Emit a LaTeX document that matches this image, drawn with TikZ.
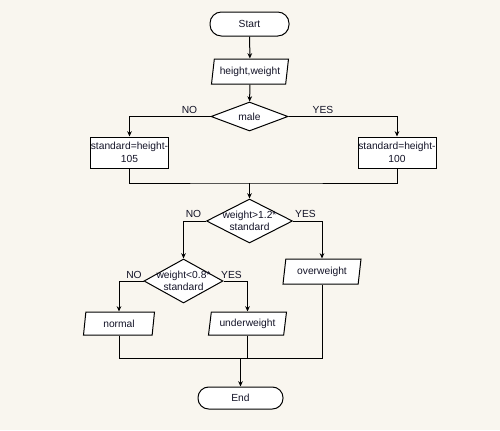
\documentclass[tikz,border=0pt]{standalone}
\usepackage{fontspec}
\setmainfont{Liberation Sans}
\usepackage{tikz}
\usetikzlibrary{shapes}
\usetikzlibrary{shapes.geometric}
\usetikzlibrary{arrows.meta}
\definecolor{paper}{RGB}{249,246,239}
\definecolor{ink}{RGB}{20,20,40}
\begin{document}
\begin{tikzpicture}[x=0.75pt,y=0.75pt,yscale=-1,xscale=1,
  every node/.style={font=\fontsize{7.7}{9.3}\selectfont, text=ink},
  terminal/.style={draw, fill=white, line width=0.75pt, rectangle, rounded corners=8.5pt, inner sep=0pt},
  inout/.style={draw, fill=white, line width=0.75pt, trapezium, trapezium left angle=77, trapezium right angle=103, trapezium stretches body, inner sep=1pt},
  process/.style={draw, fill=white, line width=0.75pt, rectangle, inner sep=0pt, align=center},
  decision/.style={draw, fill=white, line width=0.75pt, diamond, inner sep=0pt},
  lbl/.style={inner sep=0.75pt},
  flow/.style={line width=0.75pt, -{Stealth[length=4pt,width=3.5pt]}},
  link/.style={line width=0.75pt}]
\fill [paper] (0,0) rectangle (500,430);
\useasboundingbox (0,0) rectangle (500,430);
\node [terminal, minimum width=59.25pt, minimum height=18pt] (start) at (249.5,24) {Start};
\node [inout, minimum width=57.75pt, minimum height=18.75pt] (input) at (250,71.5) {height,weight};
\node [decision, minimum width=57.75pt, minimum height=21.75pt, label={center:male}] (male) at (249.5,116.5) {};
\node [process, minimum width=56.25pt, minimum height=23.25pt] (std105) at (129.5,152.5) {standard=height-\\105};
\node [process, minimum width=58.5pt, minimum height=23.25pt] (std100) at (397,152.5) {standard=height-\\100};
\coordinate (m1) at (249.5,183);
\node [decision, minimum width=64.5pt, minimum height=33pt, label={[align=center]center:weight>1.2*\\standard}] (check1) at (249.5,221) {};
\node [inout, minimum width=58.5pt, minimum height=18.75pt] (over) at (322,271.5) {overweight};
\node [decision, minimum width=59.25pt, minimum height=33pt, label={[align=center]center:weight<0.8*\\standard}] (check2) at (183.5,281) {};
\node [inout, minimum width=53.25pt, minimum height=17.25pt] (normal) at (119,323.5) {normal};
\node [inout, minimum width=58.5pt, minimum height=17.25pt] (under) at (247.5,323.5) {underweight};
\coordinate (m2) at (240.5,358);
\node [terminal, minimum width=63.75pt, minimum height=16.5pt, rounded corners=8pt] (end) at (240.5,398) {End};
\draw [flow] (start) -- (input);
\draw [flow] (input) -- (male);
\draw [flow] (male.west) -| (std105.north);
\draw [flow] (male.east) -| (std100.north);
\draw [link] (std105.south) |- (m1) -| (std100.south);
\draw [flow] (m1) -- (check1);
\draw [flow] (check1.west) -| (check2.north);
\draw [flow] (check1.east) -| (over.north);
\draw [flow] (check2.west) -| (normal.north);
\draw [flow] (check2.east) -| (under.north);
\draw [link] (normal.south) |- (m2) -| (over.south);
\draw [link] (under.south) -- (under.south |- m2);
\draw [flow] (m2) -- (end);
\node [lbl] (no1) at (189.5,110) {NO};
\node [lbl] (yes1) at (323,109.5) {YES};
\node [lbl] (no2) at (193.5,214) {NO};
\node [lbl] (yes2) at (305.5,214) {YES};
\node [lbl] (no3) at (134,274.5) {NO};
\node [lbl] (yes3) at (231.5,274.5) {YES};
\end{tikzpicture}
\end{document}
